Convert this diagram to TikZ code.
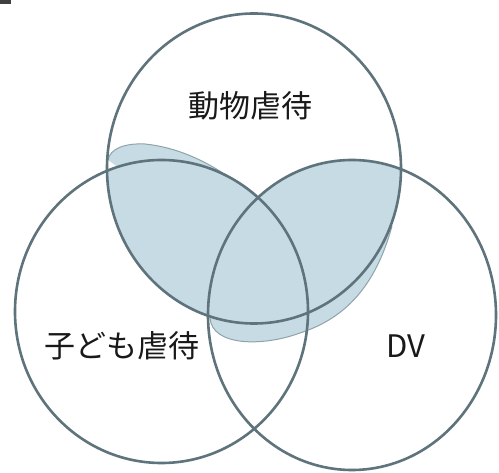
\documentclass[tikz,border=0pt]{standalone}
\usepackage{fontspec}
\newfontfamily\cjk{Noto Sans CJK JP}
\definecolor{ring}{HTML}{5E737B}
\definecolor{fillblue}{HTML}{C7DBE4}
\definecolor{blobline}{HTML}{8FA3AB}
\tikzset{
  ringline/.style={draw=ring,line width=2.6pt},
  lbl/.style={font=\cjk\fontsize{31}{31}\selectfont,text=black!90,inner sep=0pt},
}
\begin{document}
\begin{tikzpicture}[x=1pt,y=-1pt]
\useasboundingbox (0,0) rectangle (499,473);
\fill[white] (0,0) rectangle (499,473);
\fill[black!75] (0,0) rectangle (11,4);
% shaded region
\begin{scope}
  \clip (254,168.5) ellipse [x radius=147,y radius=155];
  \fill[fillblue] (161.5,311.5) ellipse [x radius=146.5,y radius=151.5]
               (352,315) ellipse [x radius=144,y radius=155];
  \fill[fillblue] (108,160) .. controls (110,149) and (124,143) .. (145,144)
        .. controls (175,147) and (205,160) .. (230,178) -- (150,190) -- cycle;
  \draw[blobline,line width=1pt] (108,160) .. controls (110,149) and (124,143) .. (145,144)
        .. controls (175,147) and (205,160) .. (230,178);
\end{scope}
\fill[fillblue] (210,318) .. controls (212,346) and (262,347) .. (300,333)
      .. controls (340,320) and (374,292) .. (392,226) -- (350,260) -- (260,310) -- cycle;
\draw[blobline,line width=1pt] (210,318) .. controls (212,346) and (262,347) .. (300,333)
      .. controls (340,320) and (374,292) .. (392,226);
% circles
\draw[ringline] (254,168.5) ellipse [x radius=147,y radius=155];
\draw[ringline] (161.5,311.5) ellipse [x radius=146.5,y radius=151.5];
\draw[ringline] (352,315) ellipse [x radius=144,y radius=155];
% labels
\node[lbl] (animal) at (250,106) {動物虐待};
\node[lbl] (child) at (122,346) {子ども虐待};
\node[lbl] (dv) at (406,346) {DV};
\end{tikzpicture}
\end{document}
